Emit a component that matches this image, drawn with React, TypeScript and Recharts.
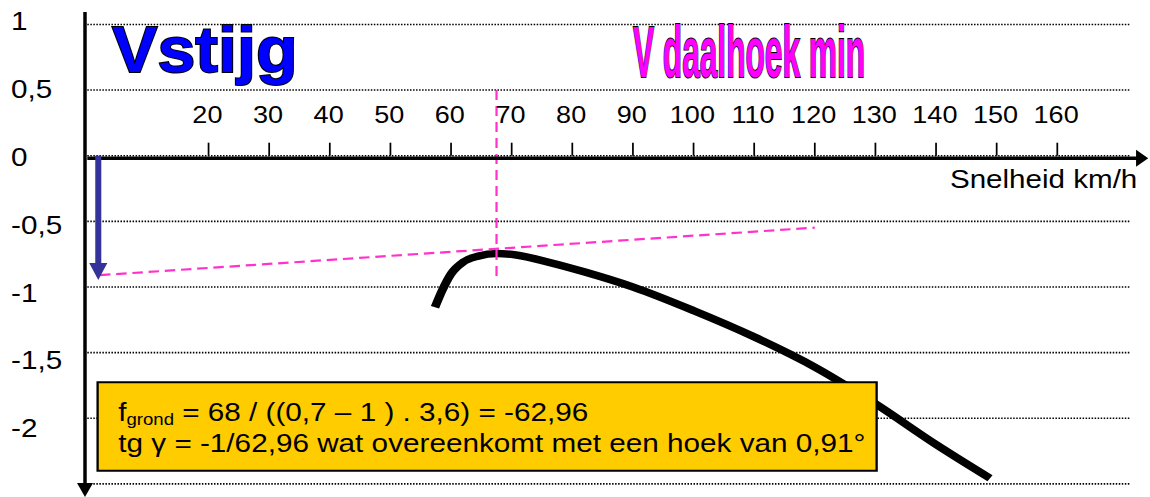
import React from 'react';
import { LineChart, Line, XAxis, YAxis, ReferenceLine, ReferenceArea, ReferenceDot } from 'recharts';

// ---- data ----
const speedTicks = [20, 30, 40, 50, 60, 70, 80, 90, 100, 110, 120, 130, 140, 150, 160];
const climbTicks = [1, 0.5, 0, -0.5, -1, -1.5, -2];
const gridLevels = [1, 0.5, 0, -0.5, -1, -1.5, -2, -2.5];

const curveSpeed = [57.35, 58.5, 60.0, 62.0, 64.5, 67.5, 71.0, 76.0, 82.0, 90.0, 100.0, 110.0, 120.0, 130.0, 140.0, 148.9];
const curveClimb = [-1.155, -1.03, -0.9, -0.81, -0.765, -0.745, -0.758, -0.81, -0.885, -1.0, -1.18, -1.38, -1.61, -1.89, -2.2, -2.457];

const vMinSink = 67.5;
const sinkArrowSpeed = 1.81;
const sinkArrowValue = -0.947;
const tangentStart = { x: 2.1, y: -0.91 };
const tangentEnd = { x: 120, y: -0.548 };

const xAxisLabel = 'Snelheid km/h';
const titleClimb = 'Vstijg';
const titleSink = 'V daalhoek min';
const boxLine1a = 'f';
const boxLine1sub = 'grond';
const boxLine1b = ' = 68 / ((0,7 – 1 ) . 3,6) = -62,96';
const boxLine2 = 'tg γ = -1/62,96 wat overeenkomt met een hoek van 0,91°';

const data = curveSpeed.map((s, i) => ({ speed: s, climb: curveClimb[i] }));

// ---- layout ----
const S = 1.16; // horizontal stretch of the original picture
const CHART_W = 1150 / S;
const CHART_H = 497;
const X_DOMAIN: [number, number] = [-2, 175];
const Y_DOMAIN: [number, number] = [-2.6, 1.1];
const Y_AXIS_W = 64.81;
const FONT = "'Liberation Sans', Arial, sans-serif";
const PINK = '#FF33CC';

const fmt = (v: number) => String(v).replace('.', ',');

const YTick = (props: any) => {
  const { y, payload } = props;
  const v = payload.value as number;
  return (
    <text x={9.5} y={y + 10.3 - 4.3 * v} fontSize={25.6} fontFamily={FONT} fill="#000" textAnchor="start">
      {fmt(v)}
    </text>
  );
};

const textAt = (content: React.ReactNode, opts: any) => (p: any) => (
  <text x={p.cx} y={p.cy} fontFamily={FONT} fill="#000" {...opts}>
    {content}
  </text>
);

const titleAt = (content: string, fontSize: number, sx: number, sy: number, fill: string) => (p: any) => (
  <text
    x={0}
    y={0}
    transform={`translate(${p.cx},${p.cy}) scale(${sx},${sy})`}
    fontFamily={FONT}
    fontSize={fontSize}
    fontWeight="bold"
    fill={fill}
    stroke="#000"
    strokeWidth={2 / sy}
    paintOrder="stroke"
  >
    {content}
  </text>
);

export default function App() {
  return (
    <div style={{ position: 'absolute', left: 0, top: 0, width: 1150, height: 497, overflow: 'hidden', background: '#fff' }}>
      <div style={{ width: CHART_W, height: CHART_H, transform: `scaleX(${S})`, transformOrigin: '0 0' }}>
        <LineChart width={CHART_W} height={CHART_H} data={data} margin={{ top: 11.3, right: CHART_W - Y_AXIS_W - (X_DOMAIN[1] - X_DOMAIN[0]) * 5.2263, bottom: 0, left: 0 }}>
          <XAxis type="number" dataKey="speed" domain={X_DOMAIN} hide allowDataOverflow />
          <YAxis
            type="number"
            domain={Y_DOMAIN}
            ticks={climbTicks}
            interval={0}
            width={Y_AXIS_W}
            axisLine={false}
            tickLine={false}
            tick={<YTick />}
            allowDataOverflow
          />
          {gridLevels.map((l) => (
            <ReferenceLine
              key={'g' + l}
              segment={[{ x: 0, y: l }, { x: 172, y: l }]}
              stroke="#000"
              strokeWidth={1.6}
              strokeDasharray="1.3 1.3"
              zIndex={-50}
            />
          ))}
          {/* y axis with arrow */}
          <ReferenceLine
            segment={[{ x: -0.38, y: 1.094 }, { x: -0.38, y: -2.6 }]}
            zIndex={500}
            shape={(p: any) => (
              <g>
                <line x1={p.x1} y1={p.y1} x2={p.x2} y2={p.y2 - 12} stroke="#000" strokeWidth={3} />
                <polygon points={`${p.x2},${p.y2} ${p.x2 - 6.9},${p.y2 - 14} ${p.x2 + 6.9},${p.y2 - 14}`} fill="#000" />
              </g>
            )}
          />
          {/* x axis with arrow */}
          <ReferenceLine
            segment={[{ x: 0, y: -0.02 }, { x: 175, y: -0.02 }]}
            zIndex={500}
            shape={(p: any) => (
              <g>
                <line x1={p.x1} y1={p.y1} x2={p.x2 - 9} y2={p.y2} stroke="#000" strokeWidth={3.5} />
                <polygon points={`${p.x2},${p.y2} ${p.x2 - 10.5},${p.y2 - 8.5} ${p.x2 - 10.5},${p.y2 + 8.5}`} fill="#000" />
              </g>
            )}
          />
          {speedTicks.map((v) => (
            <ReferenceLine
              key={'t' + v}
              segment={[{ x: v, y: 0 }, { x: v, y: 0.099 }]}
              zIndex={500}
              shape={(p: any) => (
                <g>
                  <line x1={p.x1} y1={p.y1} x2={p.x2} y2={p.y2} stroke="#000" strokeWidth={1.5} />
                  <text x={p.x2 - 1} y={p.y2 - 20} fontSize={23.3} fontFamily={FONT} fill="#000" textAnchor="middle">
                    {v}
                  </text>
                </g>
              )}
            />
          ))}
          <ReferenceDot x={173.2} y={-0.248} r={0} zIndex={600} shape={textAt(xAxisLabel, { fontSize: 25.5, textAnchor: 'end' })} />
          {/* titles */}
          <ReferenceDot x={4.07} y={0.64} r={0} zIndex={600} shape={titleAt(titleClimb, 65, 0.904, 1, '#0000FF')} />
          <ReferenceDot x={90.0} y={0.6} r={0} zIndex={600} shape={titleAt(titleSink, 36, 0.758, 2.017, '#FF00FF')} />
          {/* vertical dashed line at minimum sink speed */}
          <ReferenceLine segment={[{ x: vMinSink, y: 0.5 }, { x: vMinSink, y: -0.92 }]} stroke={PINK} strokeWidth={1.9} strokeDasharray="10 6" zIndex={450} />
          {/* tangent */}
          <ReferenceLine segment={[tangentStart, tangentEnd]} stroke={PINK} strokeWidth={2.2} strokeDasharray="9 5" zIndex={450} />
          {/* sink arrow */}
          <ReferenceLine
            segment={[{ x: sinkArrowSpeed, y: 0 }, { x: sinkArrowSpeed, y: sinkArrowValue }]}
            zIndex={550}
            shape={(p: any) => (
              <g>
                <line x1={p.x1} y1={p.y1} x2={p.x2} y2={p.y2 - 14} stroke="#333399" strokeWidth={5.2} />
                <polygon points={`${p.x2},${p.y2} ${p.x2 - 7.8},${p.y2 - 17} ${p.x2 + 7.8},${p.y2 - 17}`} fill="#333399" />
              </g>
            )}
          />
          <Line type="monotone" dataKey="climb" stroke="#000" strokeWidth={7.5} dot={false} isAnimationActive={false} zIndex={400} />
          <ReferenceArea x1={1.7} x2={130.2} y1={-2.4} y2={-1.726} fill="#FFCC00" fillOpacity={1} stroke="#000" strokeWidth={2} zIndex={700} />
          <ReferenceDot
            x={5.11}
            y={-2.018}
            r={0}
            zIndex={800}
            shape={textAt(
              <>
                {boxLine1a}
                <tspan fontSize={16} dy={4}>{boxLine1sub}</tspan>
                <tspan dy={-4}>{boxLine1b}</tspan>
              </>,
              { fontSize: 25.6 }
            )}
          />
          <ReferenceDot x={5.11} y={-2.257} r={0} zIndex={800} shape={textAt(boxLine2, { fontSize: 25.6 })} />
        </LineChart>
      </div>
    </div>
  );
}
